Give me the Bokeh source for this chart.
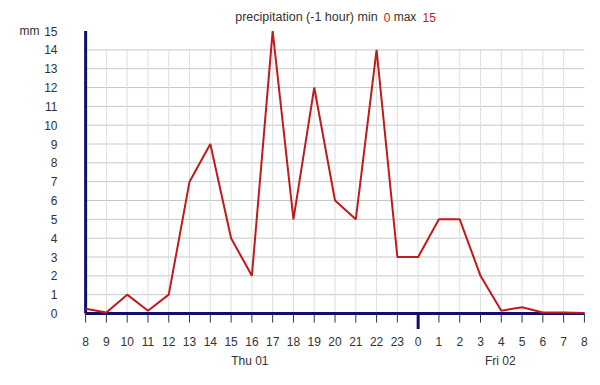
from bokeh.plotting import figure
from bokeh.models import Range1d, FixedTicker, Label, LinearAxis
from bokeh.embed import file_html
from bokeh.resources import INLINE

# ---- data ----
hour_labels = ["8", "9", "10", "11", "12", "13", "14", "15", "16", "17", "18", "19",
               "20", "21", "22", "23", "0", "1", "2", "3", "4", "5", "6", "7", "8"]
precip = [0.25, 0.05, 1.0, 0.15, 1.0, 7, 9, 4, 2, 15, 5, 12, 6, 5, 14, 3, 3,
          5, 5, 2, 0.15, 0.33, 0.05, 0.05, 0.02]
y_ticks = list(range(0, 16))
day_labels = ["Thu 01", "Fri 02"]
day_pos = [7.9, 19.95]
midnight_index = 16
y_unit = "mm"

x = list(range(len(hour_labels)))
FONT = "Liberation Sans"
NAVY = "#10106a"
RED = "#c01a1a"
GREY = "#333333"

p = figure(width=592, height=377, output_backend="svg", toolbar_location=None,
           x_range=Range1d(-0.15, 24.1), y_range=Range1d(-0.903, 16.41),
           min_border_left=82, min_border_right=6, min_border_top=4, min_border_bottom=47)
p.outline_line_color = None
p.xgrid.visible = False
p.ygrid.visible = False


def style(ax, standoff):
    ax.axis_line_color = None
    ax.major_tick_line_color = None
    ax.minor_tick_line_color = None
    ax.major_tick_out = 0
    ax.major_tick_in = 0
    ax.major_label_text_font = FONT
    ax.major_label_text_font_size = "12px"
    ax.major_label_text_color = GREY
    ax.major_label_standoff = standoff


p.xaxis.ticker = FixedTicker(ticks=x)
p.xaxis.major_label_overrides = {i: s for i, s in enumerate(hour_labels)}
style(p.xaxis[0], 6)
p.yaxis.ticker = FixedTicker(ticks=y_ticks)
style(p.yaxis[0], 25)

day_axis = LinearAxis(ticker=FixedTicker(ticks=day_pos),
                      major_label_overrides={v: s for v, s in zip(day_pos, day_labels)})
style(day_axis, 5)
p.add_layout(day_axis, "below")

unit_axis = LinearAxis(ticker=FixedTicker(ticks=[15]), major_label_overrides={15: y_unit})
style(unit_axis, 2)
p.add_layout(unit_axis, "left")

# gridlines
hy = list(range(1, 15))
p.segment(x0=[0] * len(hy), y0=hy, x1=[24] * len(hy), y1=hy, line_color="#c8c8c8", line_width=1)
vx = x[1:-1]
p.segment(x0=vx, y0=[0] * len(vx), x1=vx, y1=[14] * len(vx), line_color="#dedede", line_width=1)

# tick marks
p.segment(x0=x, y0=[0] * len(x), x1=x, y1=[-0.48] * len(x), line_color=GREY, line_width=1)
p.segment(x0=[midnight_index], y0=[0], x1=[midnight_index], y1=[-0.82],
          line_color=NAVY, line_width=3)

# axis lines
p.segment(x0=[0], y0=[0], x1=[0], y1=[15], line_color=NAVY, line_width=3)
p.segment(x0=[0], y0=[0], x1=[24], y1=[0], line_color=NAVY, line_width=3)

# data
p.line(x, precip, line_color=RED, line_width=2)

# title (inside the frame area)
title_parts = [("precipitation (-1 hour) min", GREY, 14.05, "right", "12.5px"),
               ("0", RED, 14.34, "left", "12px"),
               ("max", GREY, 14.82, "left", "12px"),
               ("15", RED, 16.21, "left", "12px")]
for txt, col, xp, al, fs in title_parts:
    p.add_layout(Label(x=xp, y=15.72, text=txt, text_align=al, text_baseline="middle",
                       text_font=FONT, text_font_size=fs, text_color=col))

open("out.html", "w").write(file_html(p, INLINE))
